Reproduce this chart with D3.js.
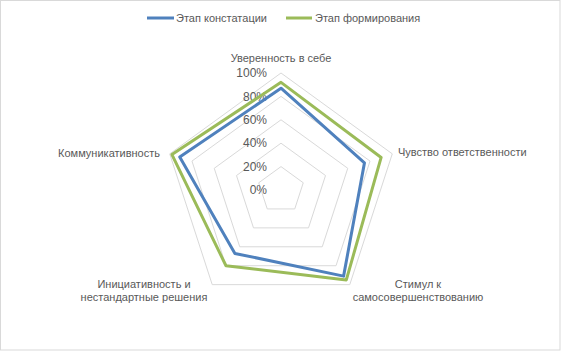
<!DOCTYPE html>
<html><head><meta charset="utf-8">
<script src="https://cdn.jsdelivr.net/npm/d3@7"></script>
<style>body{margin:0;background:#fff}svg{display:block}text{font-family:"Liberation Sans",Arial,sans-serif;fill:#595959}</style>
</head><body>
<svg id="c" width="561" height="351"></svg>
<script>
const categories = [["Уверенность в себе"],["Чувство ответственности"],["Стимул  к","самосовершенствованию"],["Инициативность и","нестандартные решения"],["Коммуникативность"]];
const seriesNames = ["Этап констатации","Этап формирования"];
const seriesColors = ["#4F81BD","#9BBB59"];
const valuesKonst = [0.87,0.75,0.91,0.67,0.91];
const valuesForm = [0.92,0.90,0.95,0.80,0.98];
const tickValues = [0,0.2,0.4,0.6,0.8,1.0];

const svg = d3.select("#c");
svg.append("rect").attr("x",0.5).attr("y",0.5).attr("width",559.5).attr("height",349.5).attr("fill","none").attr("stroke","#d9d9d9");
const cx=281, cy=190, R=117;
const r = d3.scaleLinear().domain([0,1]).range([0,R]);
const n = categories.length;
const ang = i => i*2*Math.PI/n;
const pt = (i,v) => [cx + r(v)*Math.sin(ang(i)), cy - r(v)*Math.cos(ang(i))];
const g = svg.append("g");
// grid
tickValues.filter(t=>t>0).forEach(t=>{
  g.append("polygon").attr("points", d3.range(n).map(i=>pt(i,t).join(",")).join(" "))
   .attr("fill","none").attr("stroke","#d9d9d9").attr("stroke-width",1);
});
// axis labels
const fmt = d3.format(".0%");
tickValues.forEach(t=>{
  g.append("text").attr("x",cx-14).attr("y",cy - r(t)).attr("dy","0.35em").attr("text-anchor","end")
   .attr("font-size",12).text(fmt(t));
});
// series
const line = d3.line().curve(d3.curveLinearClosed);
[valuesKonst,valuesForm].forEach((vals,k)=>{
  g.append("path").attr("d", line(vals.map((v,i)=>pt(i,v)))).attr("fill","none")
   .attr("stroke",seriesColors[k]).attr("stroke-width",3).attr("stroke-linejoin","round");
});
// category labels
const labelPos = [
  {x:281,y:58,anchor:"middle"},
  {x:398,y:152,anchor:"start"},
  {x:418,y:284,anchor:"middle"},
  {x:144,y:284,anchor:"middle"},
  {x:160,y:153,anchor:"end"}
];
categories.forEach((lines,i)=>{
  const p = labelPos[i];
  const t = g.append("text").attr("text-anchor",p.anchor).attr("font-size",11);
  lines.forEach((s,j)=>t.append("tspan").attr("x",p.x).attr("y",p.y+j*13).attr("dy","0.35em").text(s));
});
// legend
const leg = [{x1:147,x2:174,tx:176},{x1:286,x2:312,tx:315}];
seriesNames.forEach((s,k)=>{
  svg.append("line").attr("x1",leg[k].x1).attr("x2",leg[k].x2).attr("y1",18).attr("y2",18)
    .attr("stroke",seriesColors[k]).attr("stroke-width",3);
  svg.append("text").attr("x",leg[k].tx).attr("y",18).attr("dy","0.35em").attr("font-size",11).text(s);
});
</script>
</body></html>
